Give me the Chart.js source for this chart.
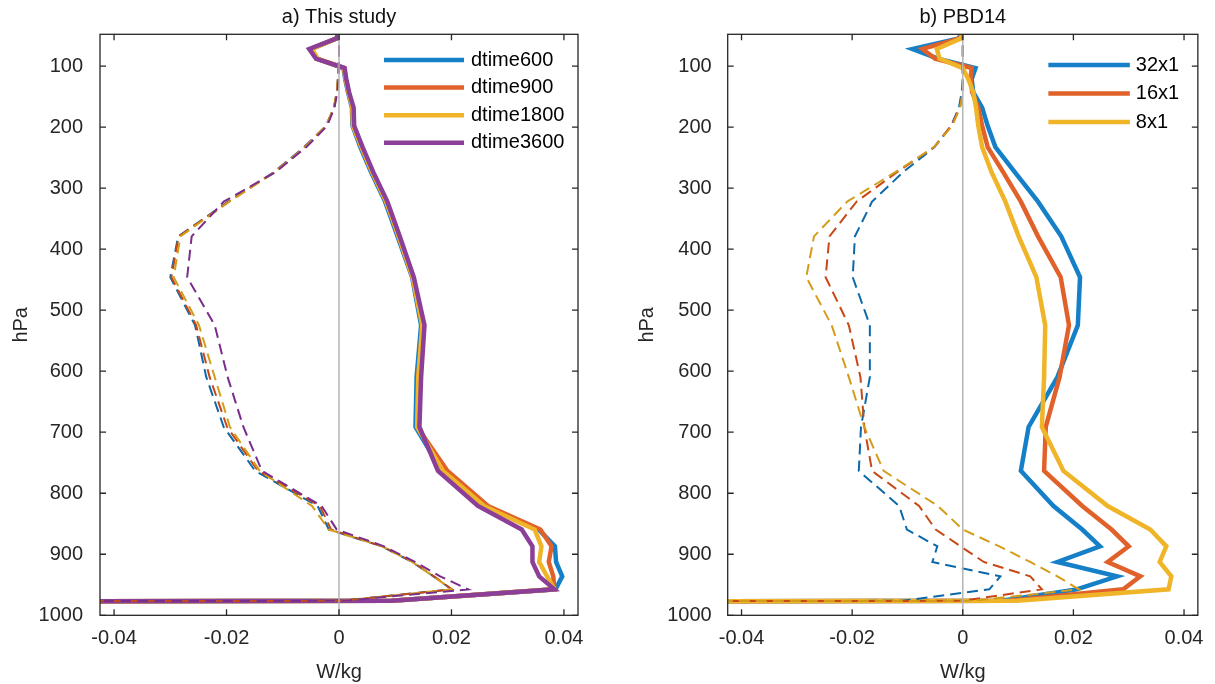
<!DOCTYPE html>
<html>
<head>
<meta charset="utf-8">
<script src="https://cdn.jsdelivr.net/npm/chart.js@4.4.0/dist/chart.umd.min.js"></script>
<style>
  html, body { margin: 0; padding: 0; background: #fff; }
  #wrap { position: relative; width: 1215px; height: 684px; }
  canvas { position: absolute; top: 0; }
  #chart-a { left: 0; }
  #chart-b { left: 607px; }
</style>
</head>
<body>
<div id="wrap">
  <canvas id="chart-a" width="607" height="684"></canvas>
  <canvas id="chart-b" width="608" height="684"></canvas>
</div>
<script>
// model levels (hPa), shared by every profile
const levels = [38.3, 54.6, 72.0, 87.8, 103.3, 121.5, 143.0, 168.2, 197.9, 232.8, 273.9, 322.2, 379.1,
                446.0, 524.7, 609.8, 691.4, 763.4, 820.9, 859.5, 887.0, 912.6, 936.2, 957.5, 976.3, 992.6];

const xTicks = [-0.04, -0.02, 0, 0.02, 0.04];
const yTicks = [100, 200, 300, 400, 500, 600, 700, 800, 900, 1000];

// a) This study
const seriesA = ['dtime600', 'dtime900', 'dtime1800', 'dtime3600'];
const solidA600  = [0, -0.0004, -0.0050, -0.0040, 0.0008, 0.0011, 0.0016, 0.0023, 0.0024, 0.0038, 0.0057, 0.0082, 0.0104,
                    0.0130, 0.0146, 0.0138, 0.0136, 0.0183, 0.0262, 0.0355, 0.0384, 0.0386, 0.0397, 0.0385, 0.0093, -1.5];
const solidA900  = [0, -0.0004, -0.0050, -0.0040, 0.0009, 0.0012, 0.0017, 0.0024, 0.0025, 0.0040, 0.0059, 0.0084, 0.0106,
                    0.0131, 0.0149, 0.0141, 0.0139, 0.0193, 0.0265, 0.0358, 0.0378, 0.0373, 0.0381, 0.0383, 0.0093, -1.5];
const solidA1800 = [0, -0.0004, -0.0048, -0.0038, 0.0009, 0.0012, 0.0017, 0.0024, 0.0025, 0.0040, 0.0059, 0.0084, 0.0106,
                    0.0131, 0.0148, 0.0141, 0.0139, 0.0185, 0.0258, 0.0348, 0.0360, 0.0356, 0.0370, 0.0383, 0.0093, -1.5];
const solidA3600 = [0, -0.0004, -0.0053, -0.0041, 0.0010, 0.0013, 0.0018, 0.0026, 0.0027, 0.0042, 0.0061, 0.0086, 0.0108,
                    0.0133, 0.0152, 0.0146, 0.0143, 0.0176, 0.0247, 0.0325, 0.0344, 0.0344, 0.0356, 0.0383, 0.0094, -1.5];
const dashA600   = [0, 0, 0, 0, -0.0001, -0.0002, -0.0004, -0.0009, -0.0023, -0.0062, -0.0116, -0.0197, -0.0286,
                    -0.0300, -0.0256, -0.0236, -0.0205, -0.0149, -0.0038, -0.0018, 0.0076, 0.0130, 0.0168, 0.0200, 0.0004, -1.5];
const dashA900   = [0, 0, 0, 0, -0.0001, -0.0002, -0.0004, -0.0009, -0.0023, -0.0061, -0.0115, -0.0196, -0.0285,
                    -0.0298, -0.0254, -0.0230, -0.0199, -0.0144, -0.0034, -0.0014, 0.0077, 0.0131, 0.0169, 0.0201, 0.0004, -1.5];
const dashA1800  = [0, 0, 0, 0, -0.0001, -0.0002, -0.0004, -0.0009, -0.0023, -0.0060, -0.0114, -0.0195, -0.0282,
                    -0.0294, -0.0249, -0.0221, -0.0194, -0.0141, -0.0048, -0.0018, 0.0076, 0.0130, 0.0168, 0.0200, 0.0004, -1.5];
const dashA3600  = [0, 0, 0, 0, 0, -0.0001, -0.0003, -0.0008, -0.0021, -0.0058, -0.0113, -0.0205, -0.0262,
                    -0.0270, -0.0221, -0.0198, -0.0170, -0.0137, -0.0031, -0.0004, 0.0080, 0.0135, 0.0180, 0.0230, 0.0006, -1.5];

// b) PBD14
const seriesB = ['32x1', '16x1', '8x1'];
const solidB32 = [0, -0.0007, -0.0091, -0.0045, 0.0023, 0.0016, 0.0019, 0.0035, 0.0045, 0.0059, 0.0094, 0.0136, 0.0178,
                  0.0212, 0.0208, 0.0171, 0.0119, 0.0105, 0.0164, 0.0216, 0.0248, 0.0171, 0.0279, 0.0206, 0.0070, -1.5];
const solidB16 = [0, -0.0005, -0.0073, -0.0050, 0.0016, 0.0014, 0.0017, 0.0028, 0.0035, 0.0045, 0.0073, 0.0105, 0.0136,
                  0.0177, 0.0192, 0.0175, 0.0150, 0.0147, 0.0216, 0.0269, 0.0300, 0.0262, 0.0321, 0.0290, 0.0085, -1.5];
const solidB8  = [0, -0.0003, -0.0047, -0.0042, 0.0000, 0.0010, 0.0019, 0.0024, 0.0028, 0.0035, 0.0052, 0.0077, 0.0101,
                  0.0133, 0.0149, 0.0147, 0.0143, 0.0182, 0.0262, 0.0339, 0.0368, 0.0356, 0.0377, 0.0372, 0.0098, -1.5];
const dashB32  = [0, 0, 0, 0, 0, 0, -0.0002, -0.0007, -0.0021, -0.0051, -0.0108, -0.0164, -0.0195,
                  -0.0199, -0.0168, -0.0168, -0.0184, -0.0188, -0.0115, -0.0101, -0.0046, -0.0055, 0.0068, 0.0048, -0.0110, -1.5];
const dashB16  = [0, 0, 0, 0, 0, 0, 0, -0.0005, -0.0021, -0.0052, -0.0119, -0.0192, -0.0241,
                  -0.0248, -0.0206, -0.0185, -0.0178, -0.0164, -0.0079, -0.0049, -0.0004, 0.0038, 0.0122, 0.0143, -0.0003, -1.5];
const dashB8   = [0, 0, 0, 0, 0, 0, 0, -0.0005, -0.0019, -0.0052, -0.0122, -0.0209, -0.0269,
                  -0.0283, -0.0237, -0.0206, -0.0178, -0.0143, -0.0045, 0.0000, 0.0066, 0.0122, 0.0171, 0.0210, 0.0017, -1.5];

const solidColors = ['#1580c8', '#e0612a', '#f0b429', '#8b3f98'];
const dashColors  = ['#0b69aa', '#c84816', '#d39d1b', '#7a2d8a'];
const textColor = '#262626';
const fontFamily = '"Liberation Sans", Arial, Helvetica, sans-serif';
const fontSize = 20;

function profile(values) {
    return levels.map((p, i) => ({ x: values[i], y: p }));
}

function buildDatasets(names, solids, dashes) {
    const sets = [];
    names.forEach((name, i) => {
        sets.push({
            label: name, data: profile(solids[i]), borderColor: solidColors[i],
            borderWidth: 4.5, pointRadius: 0, tension: 0, order: -i, legendLine: true
        });
    });
    names.forEach((name, i) => {
        sets.push({
            label: name + ' (dashed)', data: profile(dashes[i]), borderColor: dashColors[i],
            borderWidth: 2, borderDash: [11, 6], pointRadius: 0, tension: 0, order: -50 - i
        });
    });
    return sets;
}

// zero line, box with inward ticks, and the legend inside the axes
const framePlugin = {
    id: 'frame',
    afterDatasetsDraw(chart, args, opts) {
        const ctx = chart.ctx;
        const a = chart.chartArea;
        const xs = chart.scales.x, ys = chart.scales.y;
        ctx.save();

        const x0 = xs.getPixelForValue(0);
        ctx.strokeStyle = '#b4b4b4';
        ctx.lineWidth = 1.5;
        ctx.beginPath();
        ctx.moveTo(x0, a.top);
        ctx.lineTo(x0, a.bottom);
        ctx.stroke();

        ctx.strokeStyle = textColor;
        ctx.lineWidth = 1.3;
        ctx.strokeRect(a.left, a.top, a.right - a.left, a.bottom - a.top);
        ctx.beginPath();
        xs.ticks.forEach(t => {
            const p = xs.getPixelForValue(t.value);
            ctx.moveTo(p, a.bottom); ctx.lineTo(p, a.bottom - 6);
            ctx.moveTo(p, a.top); ctx.lineTo(p, a.top + 6);
        });
        ys.ticks.forEach(t => {
            const p = ys.getPixelForValue(t.value);
            ctx.moveTo(a.left, p); ctx.lineTo(a.left + 6, p);
            ctx.moveTo(a.right, p); ctx.lineTo(a.right - 6, p);
        });
        ctx.stroke();

        const items = chart.data.datasets.filter(d => d.legendLine);
        ctx.font = fontSize + 'px ' + fontFamily;
        ctx.textBaseline = 'middle';
        ctx.textAlign = 'left';
        items.forEach((d, i) => {
            const yy = a.top + opts.rowTop + i * opts.rowStep;
            ctx.strokeStyle = d.borderColor;
            ctx.lineWidth = 4.5;
            ctx.beginPath();
            ctx.moveTo(a.right - opts.lineStart, yy);
            ctx.lineTo(a.right - opts.lineEnd, yy);
            ctx.stroke();
            ctx.fillStyle = '#000';
            ctx.fillText(d.label, a.right - opts.textStart, yy);
        });
        ctx.restore();
    }
};

function makeOptions(title, yWidth, padRight, yTitlePad, yTickPad, legendOpts) {
    const font = { family: fontFamily, size: fontSize };
    return {
        responsive: false,
        animation: false,
        layout: { padding: { left: 0, right: padRight, top: 0, bottom: 0 } },
        plugins: {
            legend: { display: false },
            tooltip: { enabled: false },
            title: {
                display: true, text: title, fullSize: false, color: '#111',
                font: { family: fontFamily, size: fontSize, weight: 'normal' },
                padding: { top: 5.5, bottom: 4.8 }
            },
            frame: legendOpts
        },
        scales: {
            x: {
                type: 'linear', min: -0.0425, max: 0.0425,
                grid: { display: false, drawTicks: false }, border: { display: false },
                afterBuildTicks: s => { s.ticks = xTicks.map(v => ({ value: v })); },
                afterFit: s => { s.height = 68.7; },
                ticks: { padding: 11, color: textColor, font: font, callback: v => String(v) },
                title: { display: true, text: 'W/kg', color: textColor, font: font, padding: { top: 5, bottom: 0 } }
            },
            y: {
                type: 'linear', reverse: true, min: 48, max: 1000,
                grid: { display: false, drawTicks: false }, border: { display: false },
                afterBuildTicks: s => { s.ticks = yTicks.map(v => ({ value: v })); },
                afterFit: s => { s.width = yWidth; },
                ticks: { padding: yTickPad, color: textColor, font: font, callback: v => String(v) },
                title: { display: true, text: 'hPa', color: textColor, font: font, padding: { top: yTitlePad, bottom: 0 } }
            }
        }
    };
}

new Chart(document.getElementById('chart-a').getContext('2d'), {
    type: 'line',
    data: { datasets: buildDatasets(seriesA,
        [solidA600, solidA900, solidA1800, solidA3600],
        [dashA600, dashA900, dashA1800, dashA3600]) },
    options: makeOptions('a) This study', 100, 29, 9, 17,
        { lineStart: 194, lineEnd: 114, textStart: 107, rowTop: 25.7, rowStep: 27.6 }),
    plugins: [framePlugin]
});

new Chart(document.getElementById('chart-b').getContext('2d'), {
    type: 'line',
    data: { datasets: buildDatasets(seriesB,
        [solidB32, solidB16, solidB8],
        [dashB32, dashB16, dashB8]) },
    options: makeOptions('b) PBD14', 120.7, 9, 28, 16,
        { lineStart: 149.5, lineEnd: 68, textStart: 62, rowTop: 30.7, rowStep: 28.5 }),
    plugins: [framePlugin]
});
</script>
</body>
</html>
